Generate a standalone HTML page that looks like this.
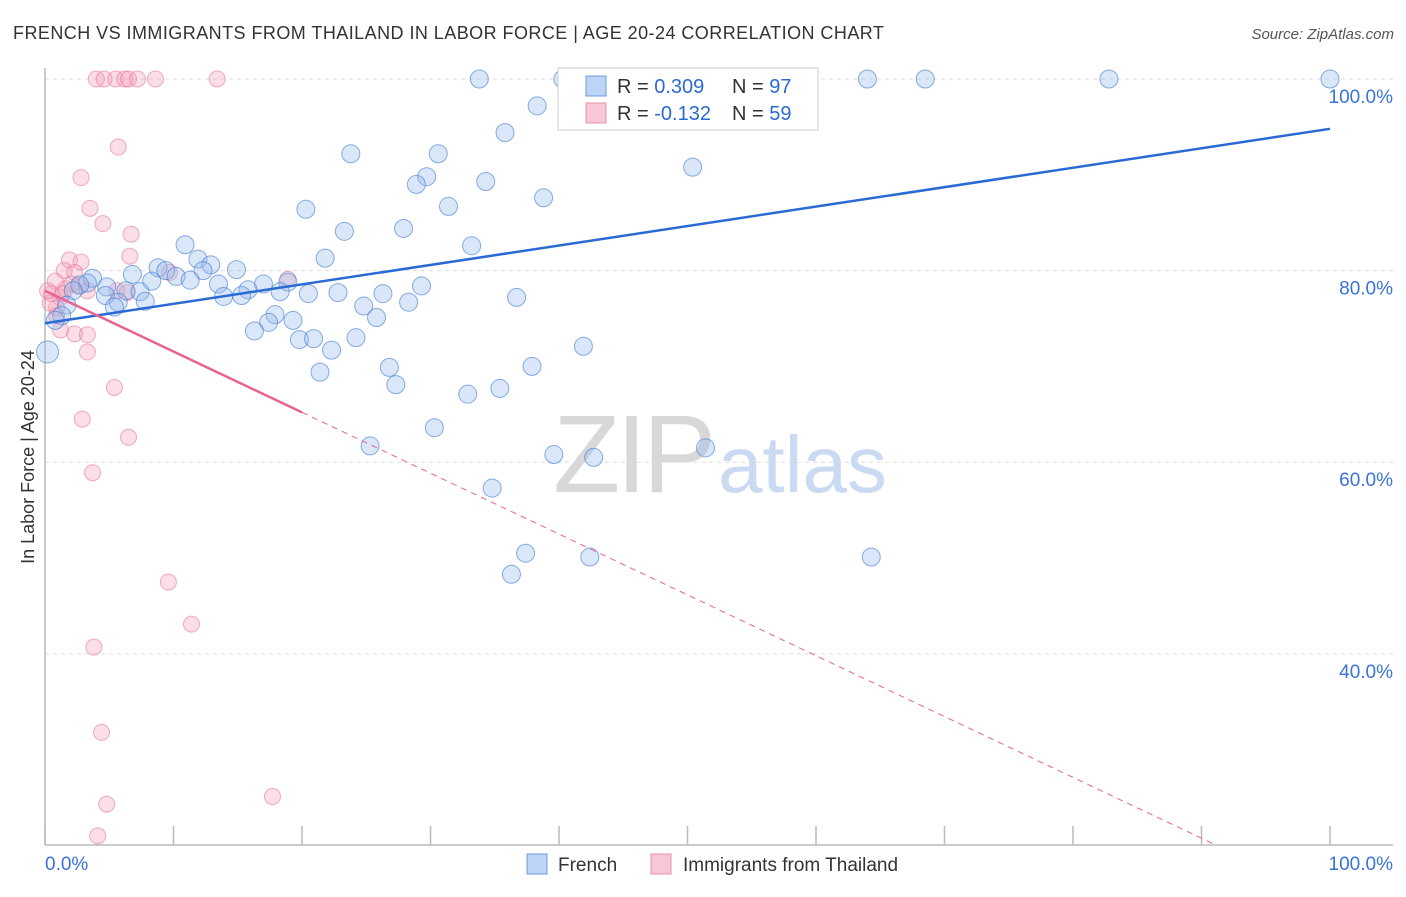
<!DOCTYPE html>
<html><head><meta charset="utf-8"><style>
body{margin:0;background:#fff;font-family:"Liberation Sans",sans-serif;}
svg text{font-family:"Liberation Sans",sans-serif;}
</style></head><body>
<svg id="chart" width="1406" height="892" viewBox="0 0 1406 892" xmlns="http://www.w3.org/2000/svg">
<text x="13" y="39" font-size="18" fill="#333" letter-spacing="0.45">FRENCH VS IMMIGRANTS FROM THAILAND IN LABOR FORCE | AGE 20-24 CORRELATION CHART</text>
<text x="1394" y="39" font-size="15" fill="#555" text-anchor="end" font-style="italic">Source: ZipAtlas.com</text>
<g>
<text x="553" y="492" font-size="110" fill="#d8d8d8" font-family="Liberation Serif" letter-spacing="-4">ZIP</text>
<text x="718" y="492" font-size="80" fill="#c9daf2">atlas</text>
</g>
<g id="grid"></g>
<g id="axes"></g>
<g id="marks"></g>
<text transform="translate(34,457) rotate(-90)" font-size="18" fill="#333" text-anchor="middle">In Labor Force | Age 20-24</text>
<g>
<rect x="558" y="68" width="260" height="62" fill="#fff" stroke="#ccc"/>
<rect x="586" y="76" width="20" height="20" fill="#bcd4f5" stroke="#6b9be0"/>
<text x="617" y="93" font-size="20" fill="#333">R = <tspan fill="#2a6ad4">0.309</tspan></text>
<text x="732" y="93" font-size="20" fill="#333">N = <tspan fill="#2a6ad4">97</tspan></text>
<rect x="586" y="103" width="20" height="20" fill="#f8c7d5" stroke="#e993ad"/>
<text x="617" y="120" font-size="20" fill="#333">R = <tspan fill="#2a6ad4">-0.132</tspan></text>
<text x="732" y="120" font-size="20" fill="#333">N = <tspan fill="#2a6ad4">59</tspan></text>
</g>
<g>
<rect x="527" y="854" width="20" height="20" fill="#bcd4f5" stroke="#6b9be0"/>
<text x="558" y="871" font-size="19" fill="#333">French</text>
<rect x="651" y="854" width="20" height="20" fill="#f8c7d5" stroke="#e993ad"/>
<text x="683" y="871" font-size="19" fill="#333">Immigrants from Thailand</text>
</g>
</svg>
<script>
const yTicks=[40,60,80,100];
const yTickLabels=["40.0%","60.0%","80.0%","100.0%"];
const frenchX=[33.8,40.3,41.2,52.5,55.9,64.0,68.5,82.8,100,46.7,38.3,35.8,23.8,30.6,50.4,29.7,28.9,34.3,38.8,31.4,20.3,23.3,27.9,33.2,21.8,10.9,11.9,12.9,14.9,12.3,8.8,9.4,10.2,6.8,8.3,11.3,13.5,17.0,18.9,15.8,18.3,13.9,15.3,3.7,3.3,2.7,2.2,4.8,6.3,7.4,4.7,5.7,7.8,5.4,1.7,1.3,0.8,0.2,20.5,22.8,26.3,29.3,28.3,24.8,25.8,36.7,17.9,17.4,19.3,16.3,19.8,20.9,22.3,24.2,41.9,21.4,26.8,27.3,37.9,35.4,32.9,30.3,25.3,39.6,42.7,51.4,34.8,37.4,36.3,42.4,64.3];
const frenchY=[100,100,100,100,100,100,100,100,100,100,97.2,94.4,92.2,92.2,90.8,89.8,89.0,89.3,87.6,86.7,86.4,84.1,84.4,82.6,81.3,82.7,81.2,80.6,80.1,80.0,80.3,80.0,79.4,79.6,78.9,79.0,78.6,78.6,78.8,78.0,77.8,77.3,77.4,79.2,78.7,78.5,77.9,78.3,77.9,77.8,77.4,76.7,76.8,76.2,76.4,75.3,74.8,71.5,77.6,77.7,77.6,78.4,76.7,76.3,75.1,77.2,75.4,74.6,74.8,73.7,72.8,72.9,71.7,73.0,72.1,69.4,69.9,68.1,70.0,67.7,67.1,63.6,61.7,60.8,60.5,61.5,57.3,50.5,48.3,50.1,50.1];
const thaiX=[4.0,4.6,5.5,6.2,6.5,7.2,8.6,13.4,5.7,2.8,3.5,4.5,6.7,6.6,1.9,2.8,1.5,2.3,0.8,2.6,1.6,3.3,0.5,1.2,5.6,6.4,9.7,18.9,0.9,0.9,2.3,3.3,1.2,3.3,5.4,2.9,6.5,3.7,9.6,11.4,3.8,4.4,4.8,17.7,4.1,0.4,0.2,2.1,1.4];
const thaiY=[100,100,100,100,100,100,100,100,92.9,89.7,86.5,84.9,83.8,81.5,81.1,80.9,80.0,79.8,78.9,78.4,78.1,77.9,77.6,77.2,77.9,77.7,79.8,79.1,76.1,75.3,73.4,73.3,73.8,71.5,67.8,64.5,62.6,58.9,47.5,43.1,40.7,31.8,24.3,25.1,21.0,76.6,77.9,78.6,77.6];
const frenchFit=[74.5,94.8];
const thaiFit=[77.9,-0.635];
const NS="http://www.w3.org/2000/svg";
const X0=45,X1=1330,Y100=79,Y0=1037;
const sx=v=>X0+(X1-X0)*v/100;
const sy=v=>Y0-(Y0-Y100)*v/100;
function mk(tag,attrs,parent){const e=document.createElementNS(NS,tag);for(const k in attrs)e.setAttribute(k,attrs[k]);parent.appendChild(e);return e;}
const grid=document.getElementById('grid'),axes=document.getElementById('axes'),marks=document.getElementById('marks');
yTicks.forEach((t,i)=>{
 const l=mk('line',{x1:45,x2:1393,y1:sy(t),y2:sy(t),stroke:'#ddd','stroke-dasharray':'4,4'},grid);
 
 
 const tx=mk('text',{x:1393,y:sy(t)+24,'font-size':19,fill:'#3a73d6','text-anchor':'end'},axes);
 tx.textContent=yTickLabels[i];
 
 
});
const ax=mk('line',{x1:45,x2:1393,y1:845,y2:845,stroke:'#bbb','stroke-width':1.5},axes);


const ay=mk('line',{x1:45,x2:45,y1:68,y2:845,stroke:'#bbb','stroke-width':1.5},axes);


for(let i=0;i<=10;i++){const t=mk('line',{x1:sx(i*10),x2:sx(i*10),y1:826,y2:845,stroke:'#bbb','stroke-width':1.5},axes);
 
 }
const xl0=mk('text',{x:45,y:870,'font-size':19,fill:'#3a73d6'},axes);xl0.textContent='0.0%';


const xl1=mk('text',{x:1393,y:870,'font-size':19,fill:'#3a73d6','text-anchor':'end'},axes);xl1.textContent='100.0%';


thaiX.forEach((x,i)=>{const c=mk('circle',{cx:sx(x),cy:sy(thaiY[i]),r:8,fill:'rgba(244,160,185,0.35)',stroke:'rgba(232,120,155,0.6)'},marks);
 
 });
frenchX.forEach((x,i)=>{const c=mk('circle',{cx:sx(x),cy:sy(frenchY[i]),r:(i==57?11:9),fill:'rgba(150,185,235,0.35)',stroke:'rgba(60,120,210,0.6)'},marks);
 
 });
const fl=mk('line',{x1:sx(0),y1:sy(frenchFit[0]),x2:sx(100),y2:sy(frenchFit[1]),stroke:'#2a6ad4','stroke-width':2.5},marks);


const tEnd=(20-thaiFit[0])/thaiFit[1];
const tl=mk('line',{x1:sx(0),y1:sy(thaiFit[0]),x2:sx(20),y2:sy(thaiFit[0]+20*thaiFit[1]),stroke:'#e8638f','stroke-width':2.5},marks);


const td=mk('line',{x1:sx(20),y1:sy(thaiFit[0]+20*thaiFit[1]),x2:sx(tEnd),y2:sy(20),stroke:'#e8638f','stroke-width':1,'stroke-dasharray':'6,5'},marks);


</script>
</body></html>
